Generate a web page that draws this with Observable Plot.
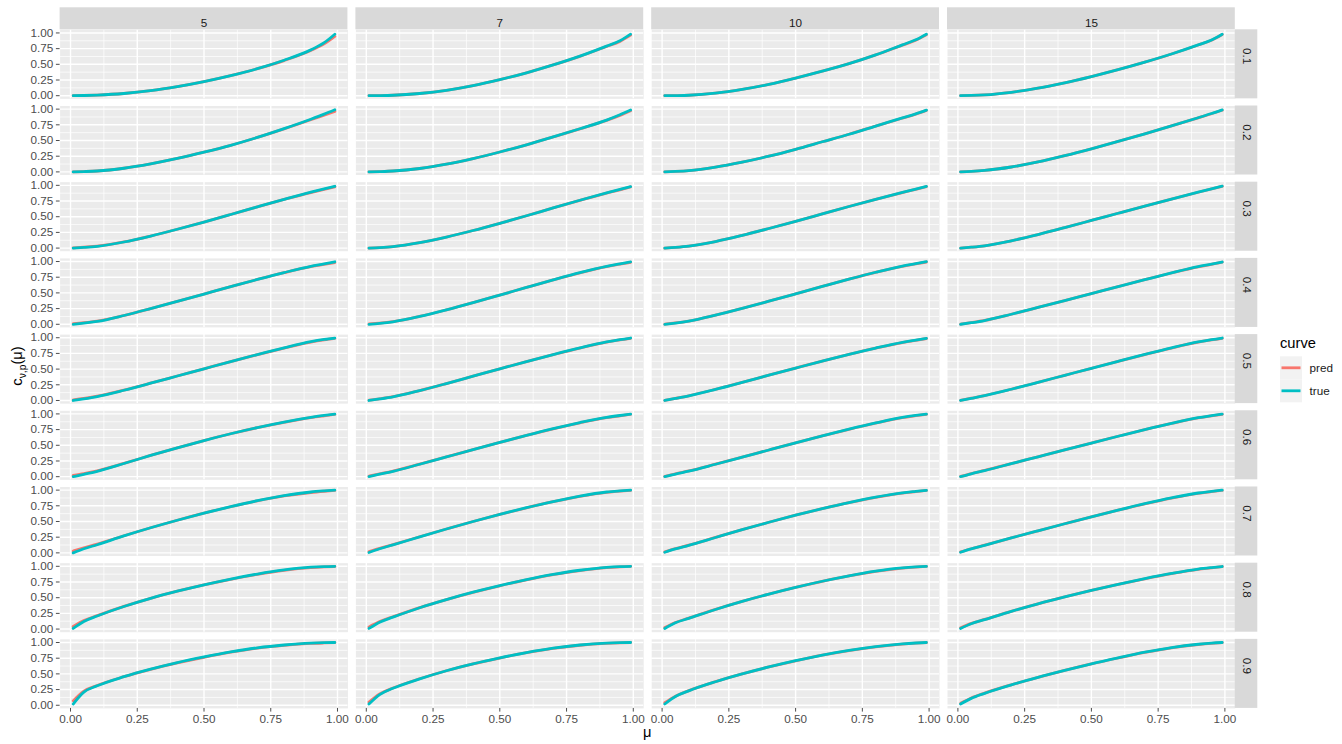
<!DOCTYPE html>
<html><head><meta charset="utf-8">
<script src="https://cdn.jsdelivr.net/npm/d3@7"></script>
<script src="https://cdn.jsdelivr.net/npm/@observablehq/plot@0.6"></script>
<style>
html,body{margin:0;padding:0;background:#fff;}
#chart{position:relative;width:1342px;height:744px;}
</style></head><body><div id="chart"></div>
<script>
// ---- data ----
const mu = [0.01, 0.05, 0.1, 0.2, 0.3, 0.4, 0.5, 0.6, 0.7, 0.8, 0.9, 0.95, 0.99];
const vs = [5, 7, 10, 15];
const ps = [0.1, 0.2, 0.3, 0.4, 0.5, 0.6, 0.7, 0.8, 0.9];
const curves = ["pred", "true"];
const xTicks = [0, 0.25, 0.5, 0.75, 1];
const yTicks = [0, 0.25, 0.5, 0.75, 1];
const xMinor = [0.125, 0.375, 0.625, 0.875];
const yMinor = [0.125, 0.375, 0.625, 0.875];

// true curves: one row per p (0.1 ... 0.9), values at mu
const trueV5 = [
  [0, 0.003, 0.01, 0.035, 0.08, 0.145, 0.225, 0.32, 0.43, 0.565, 0.73, 0.845, 0.98],
  [0, 0.005, 0.014, 0.058, 0.128, 0.214, 0.314, 0.424, 0.549, 0.689, 0.839, 0.92, 0.99],
  [0, 0.01, 0.027, 0.097, 0.192, 0.30, 0.415, 0.535, 0.657, 0.777, 0.892, 0.945, 0.985],
  [0, 0.017, 0.045, 0.14, 0.25, 0.365, 0.482, 0.599, 0.714, 0.824, 0.924, 0.963, 0.996],
  [0, 0.026, 0.063, 0.163, 0.275, 0.39, 0.505, 0.62, 0.732, 0.839, 0.936, 0.972, 0.995],
  [0, 0.038, 0.086, 0.21, 0.338, 0.46, 0.576, 0.684, 0.783, 0.871, 0.945, 0.976, 0.996],
  [0, 0.065, 0.13, 0.27, 0.40, 0.52, 0.632, 0.737, 0.832, 0.912, 0.97, 0.988, 1.0],
  [0.01, 0.12, 0.208, 0.36, 0.49, 0.603, 0.705, 0.797, 0.877, 0.942, 0.986, 0.996, 1.0],
  [0.02, 0.21, 0.31, 0.455, 0.575, 0.68, 0.77, 0.85, 0.915, 0.96, 0.99, 0.997, 1.0]
];
const trueV7 = [
  [0, 0.002, 0.007, 0.035, 0.085, 0.16, 0.255, 0.365, 0.49, 0.63, 0.79, 0.875, 0.98],
  [0, 0.005, 0.014, 0.054, 0.122, 0.212, 0.317, 0.432, 0.557, 0.687, 0.825, 0.91, 0.985],
  [0, 0.009, 0.025, 0.087, 0.175, 0.28, 0.395, 0.515, 0.64, 0.762, 0.879, 0.935, 0.978],
  [0, 0.015, 0.04, 0.125, 0.23, 0.345, 0.465, 0.587, 0.707, 0.822, 0.922, 0.962, 0.994],
  [0, 0.024, 0.058, 0.158, 0.27, 0.387, 0.504, 0.62, 0.732, 0.838, 0.933, 0.97, 0.995],
  [0, 0.04, 0.086, 0.198, 0.314, 0.43, 0.545, 0.657, 0.764, 0.862, 0.946, 0.975, 0.995],
  [0.005, 0.065, 0.127, 0.255, 0.38, 0.50, 0.614, 0.72, 0.818, 0.905, 0.97, 0.988, 1.0],
  [0.01, 0.11, 0.19, 0.34, 0.47, 0.587, 0.692, 0.787, 0.87, 0.937, 0.983, 0.995, 1.0],
  [0.02, 0.17, 0.27, 0.42, 0.55, 0.66, 0.755, 0.84, 0.91, 0.96, 0.99, 0.997, 1.0]
];
const trueV10 = [
  [0, 0.002, 0.007, 0.04, 0.10, 0.18, 0.28, 0.39, 0.51, 0.65, 0.81, 0.89, 0.98],
  [0, 0.007, 0.02, 0.075, 0.155, 0.25, 0.36, 0.48, 0.60, 0.73, 0.86, 0.925, 0.985],
  [0, 0.012, 0.032, 0.104, 0.202, 0.312, 0.427, 0.545, 0.663, 0.777, 0.887, 0.94, 0.984],
  [0, 0.019, 0.05, 0.145, 0.253, 0.368, 0.485, 0.603, 0.719, 0.829, 0.927, 0.965, 0.997],
  [0, 0.032, 0.074, 0.177, 0.289, 0.403, 0.516, 0.628, 0.736, 0.836, 0.926, 0.962, 0.99],
  [0, 0.042, 0.088, 0.198, 0.311, 0.425, 0.538, 0.649, 0.756, 0.856, 0.944, 0.975, 0.996],
  [0.01, 0.063, 0.12, 0.245, 0.369, 0.488, 0.60, 0.705, 0.802, 0.888, 0.956, 0.979, 0.996],
  [0.01, 0.10, 0.17, 0.312, 0.44, 0.557, 0.664, 0.762, 0.849, 0.922, 0.974, 0.99, 0.999],
  [0.02, 0.14, 0.23, 0.375, 0.50, 0.61, 0.71, 0.80, 0.875, 0.935, 0.978, 0.992, 1.0]
];
const trueV15 = [
  [0, 0.004, 0.013, 0.054, 0.119, 0.204, 0.304, 0.414, 0.534, 0.664, 0.809, 0.888, 0.98],
  [0, 0.008, 0.023, 0.078, 0.158, 0.258, 0.368, 0.485, 0.607, 0.733, 0.863, 0.93, 0.988],
  [0, 0.014, 0.036, 0.116, 0.216, 0.326, 0.44, 0.555, 0.669, 0.781, 0.891, 0.945, 0.988],
  [0, 0.025, 0.06, 0.16, 0.268, 0.378, 0.489, 0.60, 0.71, 0.818, 0.918, 0.958, 0.992],
  [0, 0.034, 0.077, 0.179, 0.289, 0.401, 0.513, 0.624, 0.733, 0.838, 0.933, 0.97, 0.995],
  [0, 0.046, 0.097, 0.207, 0.317, 0.427, 0.536, 0.644, 0.75, 0.85, 0.94, 0.972, 0.996],
  [0.01, 0.063, 0.12, 0.238, 0.352, 0.464, 0.574, 0.681, 0.783, 0.876, 0.954, 0.98, 1.0],
  [0.01, 0.085, 0.15, 0.282, 0.402, 0.512, 0.615, 0.712, 0.803, 0.886, 0.956, 0.98, 0.997],
  [0.02, 0.11, 0.19, 0.325, 0.445, 0.555, 0.66, 0.755, 0.845, 0.92, 0.972, 0.99, 1.0]
];

// predicted curves
const predV5 = [
  [0, 0.003, 0.01, 0.035, 0.08, 0.145, 0.225, 0.32, 0.43, 0.56, 0.72, 0.825, 0.945],
  [0, 0.005, 0.014, 0.058, 0.128, 0.214, 0.314, 0.424, 0.549, 0.685, 0.83, 0.905, 0.965],
  [0.005, 0.015, 0.03, 0.097, 0.192, 0.30, 0.415, 0.535, 0.657, 0.775, 0.885, 0.935, 0.975],
  [0.01, 0.025, 0.05, 0.14, 0.25, 0.365, 0.482, 0.599, 0.714, 0.822, 0.918, 0.955, 0.982],
  [0.01, 0.032, 0.068, 0.165, 0.275, 0.39, 0.505, 0.62, 0.73, 0.835, 0.93, 0.965, 0.988],
  [0.02, 0.05, 0.094, 0.212, 0.338, 0.46, 0.576, 0.684, 0.781, 0.866, 0.94, 0.97, 0.993],
  [0.03, 0.08, 0.14, 0.273, 0.40, 0.52, 0.632, 0.735, 0.828, 0.907, 0.962, 0.982, 0.996],
  [0.04, 0.135, 0.215, 0.362, 0.49, 0.603, 0.703, 0.793, 0.872, 0.936, 0.978, 0.99, 0.997],
  [0.07, 0.225, 0.315, 0.455, 0.573, 0.675, 0.765, 0.845, 0.91, 0.955, 0.985, 0.993, 0.998]
];
const predV7 = [
  [0, 0.002, 0.007, 0.035, 0.085, 0.16, 0.255, 0.365, 0.49, 0.627, 0.785, 0.865, 0.965],
  [0, 0.005, 0.014, 0.054, 0.122, 0.212, 0.317, 0.432, 0.557, 0.685, 0.82, 0.9, 0.975],
  [0, 0.009, 0.025, 0.087, 0.175, 0.28, 0.395, 0.515, 0.64, 0.76, 0.875, 0.928, 0.975],
  [0.005, 0.018, 0.042, 0.125, 0.23, 0.345, 0.465, 0.587, 0.707, 0.82, 0.918, 0.957, 0.988],
  [0.005, 0.027, 0.06, 0.158, 0.27, 0.387, 0.504, 0.62, 0.73, 0.835, 0.928, 0.965, 0.99],
  [0.01, 0.045, 0.09, 0.2, 0.314, 0.43, 0.545, 0.657, 0.762, 0.858, 0.94, 0.97, 0.993],
  [0.02, 0.072, 0.132, 0.257, 0.38, 0.50, 0.612, 0.718, 0.815, 0.9, 0.964, 0.984, 0.997],
  [0.035, 0.12, 0.196, 0.342, 0.47, 0.586, 0.69, 0.784, 0.866, 0.932, 0.978, 0.991, 0.998],
  [0.05, 0.18, 0.275, 0.422, 0.55, 0.66, 0.753, 0.837, 0.906, 0.956, 0.986, 0.995, 1.0]
];
const predV10 = [
  [0, 0.002, 0.007, 0.04, 0.10, 0.18, 0.28, 0.39, 0.51, 0.65, 0.805, 0.882, 0.97],
  [0, 0.007, 0.02, 0.075, 0.155, 0.25, 0.36, 0.48, 0.60, 0.73, 0.857, 0.92, 0.98],
  [0, 0.012, 0.032, 0.104, 0.202, 0.312, 0.427, 0.545, 0.663, 0.777, 0.885, 0.937, 0.98],
  [0.003, 0.021, 0.051, 0.145, 0.253, 0.368, 0.485, 0.603, 0.719, 0.828, 0.924, 0.962, 0.992],
  [0.003, 0.034, 0.075, 0.177, 0.289, 0.403, 0.516, 0.628, 0.735, 0.834, 0.922, 0.958, 0.987],
  [0.005, 0.046, 0.091, 0.199, 0.311, 0.425, 0.538, 0.649, 0.755, 0.853, 0.94, 0.971, 0.994],
  [0.015, 0.067, 0.123, 0.246, 0.369, 0.488, 0.60, 0.704, 0.80, 0.885, 0.952, 0.976, 0.995],
  [0.025, 0.105, 0.174, 0.313, 0.44, 0.557, 0.663, 0.76, 0.846, 0.918, 0.97, 0.987, 0.998],
  [0.04, 0.145, 0.233, 0.376, 0.50, 0.61, 0.709, 0.798, 0.872, 0.931, 0.974, 0.989, 0.999]
];
const predV15 = [
  [0, 0.004, 0.013, 0.054, 0.119, 0.204, 0.304, 0.414, 0.534, 0.664, 0.807, 0.884, 0.975],
  [0, 0.008, 0.023, 0.078, 0.158, 0.258, 0.368, 0.485, 0.607, 0.733, 0.861, 0.926, 0.982],
  [0, 0.014, 0.036, 0.116, 0.216, 0.326, 0.44, 0.555, 0.669, 0.781, 0.89, 0.943, 0.985],
  [0.003, 0.027, 0.061, 0.16, 0.268, 0.378, 0.489, 0.60, 0.71, 0.817, 0.916, 0.955, 0.99],
  [0.003, 0.036, 0.078, 0.179, 0.289, 0.401, 0.513, 0.624, 0.732, 0.836, 0.929, 0.966, 0.991],
  [0.005, 0.049, 0.099, 0.207, 0.317, 0.427, 0.536, 0.644, 0.749, 0.848, 0.936, 0.968, 0.994],
  [0.015, 0.066, 0.122, 0.238, 0.352, 0.464, 0.574, 0.68, 0.781, 0.873, 0.949, 0.976, 0.997],
  [0.02, 0.09, 0.153, 0.283, 0.402, 0.512, 0.615, 0.711, 0.801, 0.883, 0.952, 0.976, 0.996],
  [0.03, 0.115, 0.193, 0.326, 0.445, 0.555, 0.659, 0.753, 0.842, 0.916, 0.968, 0.987, 0.999]
];

const trueByV = [trueV5, trueV7, trueV10, trueV15];
const predByV = [predV5, predV7, predV10, predV15];
const colors = ["#F8766D", "#00BFC4"];

// long table (pred first so true is drawn on top)
const rows = [];
vs.forEach((v, i) => ps.forEach((p, j) => {
  [predByV[i][j], trueByV[i][j]].forEach((arr, k) => {
    arr.forEach((c, m) => rows.push({v, p, mu: mu[m], c, curve: curves[k]}));
  });
}));

// ---- layout ----
const W = 1342, H = 744;
const mL = 59.6, mT = 29.3, mR = 107.2, mB = 36.1;
const panelW = 287.8, panelH = 69.0;
const font = "'Liberation Sans', Arial, Helvetica, sans-serif";
const topStrip = vs.map(v => ({v, p: ps[0]}));
const rightStrip = ps.map(p => ({v: vs[vs.length - 1], p}));

const plot = Plot.plot({
  width: W, height: H,
  marginLeft: mL, marginRight: mR, marginTop: mT, marginBottom: mB,
  style: {fontFamily: font, fontSize: "11.7px", background: "#fff", overflow: "visible"},
  fx: {domain: vs, paddingInner: 0.027, paddingOuter: 0, round: false, axis: null},
  fy: {domain: ps, paddingInner: 0.094, paddingOuter: 0, round: false, axis: null},
  x: {domain: [-0.039, 1.039], label: null},
  y: {domain: [-0.05, 1.05], label: null},
  color: {domain: curves, range: colors},
  marks: [
    Plot.frame({fill: "#EBEBEB", stroke: "none"}),
    Plot.gridX(xMinor, {stroke: "#fff", strokeOpacity: 1, strokeWidth: 0.7}),
    Plot.gridY(yMinor, {stroke: "#fff", strokeOpacity: 1, strokeWidth: 0.7}),
    Plot.gridX(xTicks, {stroke: "#fff", strokeOpacity: 1, strokeWidth: 1.4}),
    Plot.gridY(yTicks, {stroke: "#fff", strokeOpacity: 1, strokeWidth: 1.4}),
    Plot.rect(topStrip, {fx: "v", fy: "p", fill: "#D9D9D9", insetTop: -22, insetBottom: panelH}),
    Plot.text(topStrip, {fx: "v", fy: "p", text: d => String(d.v), frameAnchor: "top", dy: -11, fill: "#1A1A1A", fontSize: 11.7}),
    Plot.rect(rightStrip, {fx: "v", fy: "p", fill: "#D9D9D9", insetLeft: panelW, insetRight: -22.5}),
    Plot.text(rightStrip, {fx: "v", fy: "p", text: d => String(d.p), frameAnchor: "right", dx: 11.25, rotate: 90, fill: "#1A1A1A", fontSize: 11.7}),
    Plot.axisY({ticks: yTicks, tickFormat: d3.format(".2f"), tickSize: 3.7, tickPadding: 3.2, color: "#4D4D4D", fontSize: 11.7, facetAnchor: "left", label: null}),
    Plot.axisX({ticks: xTicks, tickFormat: d3.format(".2f"), tickSize: 3.7, tickPadding: 2.9, color: "#4D4D4D", fontSize: 11.7, facetAnchor: "bottom", label: null}),
    Plot.line(rows, {fx: "v", fy: "p", x: "mu", y: "c", z: "curve", stroke: "curve", curve: "monotone-x", strokeWidth: 2.8})
  ]
});

const svg = d3.select(plot);
svg.selectAll('g[aria-label$="-axis tick"]').attr("stroke", "#333333");

// axis titles
const ann = svg.append("g").attr("font-family", font).attr("fill", "#000");
const yl = ann.append("text")
  .attr("transform", "translate(22,366) rotate(-90)")
  .attr("text-anchor", "middle").attr("font-size", 14.7);
yl.append("tspan").text("c");
yl.append("tspan").attr("font-size", 10.3).attr("dy", 3.6).text("ν,p");
yl.append("tspan").attr("dy", -3.6).text("(μ)");
ann.append("text").attr("x", (mL + (W - mR)) / 2).attr("y", 737)
  .attr("text-anchor", "middle").attr("font-size", 14.7).text("μ");

// legend
const lg = ann.append("g").attr("text-anchor", "start");
lg.append("text").attr("x", 1280).attr("y", 348).attr("font-size", 14.7).text("curve");
curves.forEach((c, i) => {
  const y0 = 356.3 + i * 23;
  lg.append("rect").attr("x", 1280).attr("y", y0).attr("width", 22).attr("height", 23).attr("fill", "#F2F2F2");
  lg.append("line").attr("x1", 1281.5).attr("x2", 1300.5).attr("y1", y0 + 11.5).attr("y2", y0 + 11.5)
    .attr("stroke", colors[i]).attr("stroke-width", 2.8);
  lg.append("text").attr("x", 1309.5).attr("y", y0 + 11.5).attr("dy", "0.35em")
    .attr("font-size", 11.7).attr("fill", "#1A1A1A").text(c);
});

document.getElementById("chart").appendChild(plot);
</script></body></html>
